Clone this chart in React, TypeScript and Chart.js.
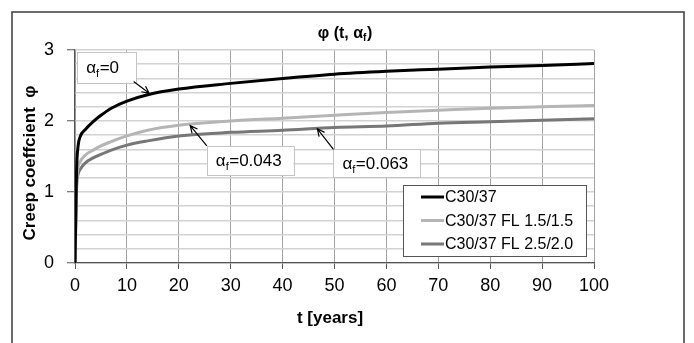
import React, { useEffect, useRef } from 'react';
import { Chart, registerables } from 'chart.js';

Chart.register(...registerables);

// ---- data ----
const years = [0, 0.3, 0.6, 1, 2, 3.5, 5, 7, 10, 14, 20, 30, 40, 50, 60, 70, 80, 90, 100];
const c3037 = [0, 1.3, 1.65, 1.78, 1.88, 1.99, 2.08, 2.18, 2.28, 2.37, 2.45, 2.53, 2.6, 2.66, 2.7, 2.73, 2.76, 2.78, 2.81];
const fl15 = [0, 1.1, 1.35, 1.43, 1.52, 1.59, 1.65, 1.71, 1.79, 1.87, 1.94, 2.0, 2.04, 2.08, 2.12, 2.15, 2.18, 2.2, 2.22];
const fl25 = [0, 1.05, 1.25, 1.32, 1.41, 1.48, 1.53, 1.59, 1.66, 1.72, 1.79, 1.84, 1.87, 1.91, 1.93, 1.97, 1.99, 2.01, 2.03];
const seriesNames = ['C30/37', 'C30/37 FL 1.5/1.5', 'C30/37 FL 2.5/2.0'];
const seriesColors = ['#000000', '#b5b5b5', '#777777'];

const xTitle = 't [years]';
const yTitle = 'Creep coeffcient  \u03c6';

// annotation labels: text after "α_f", box in data units [x0, yTop, x1, yBottom], arrow start, arrow tip
const noteTexts = ['=0', '=0.043', '=0.063'];
const noteBoxes = [
  [0.44, 2.975, 11.75, 2.54],
  [25.4, 1.648, 42.1, 1.24],
  [49.8, 1.6, 66.6, 1.205],
];
const noteFrom = [
  [11.3, 2.555],
  [25.4, 1.648],
  [49.8, 1.6],
];
const noteTo = [
  [14.3, 2.39],
  [22.2, 1.935],
  [46.7, 1.89],
];

const FONT = '"Liberation Sans", Arial, sans-serif';

function drawAlphaF(ctx: CanvasRenderingContext2D, x: number, y: number, size: number, bold: boolean, pre: string, post: string, measureOnly = false) {
  const w = bold ? 'bold ' : '';
  ctx.font = `${w}${size}px ${FONT}`;
  let cx = x;
  const wPre = ctx.measureText(pre + '\u03b1').width;
  if (!measureOnly) ctx.fillText(pre + '\u03b1', cx, y);
  cx += wPre;
  ctx.font = `${w}${Math.round(size * 0.62)}px ${FONT}`;
  const wSub = ctx.measureText('f').width;
  if (!measureOnly) ctx.fillText('f', cx, y + size * 0.2);
  cx += wSub + 0.5;
  ctx.font = `${w}${size}px ${FONT}`;
  const wPost = ctx.measureText(post).width;
  if (!measureOnly) ctx.fillText(post, cx, y);
  cx += wPost;
  return cx - x;
}

const decor = {
  id: 'decor',
  beforeDraw(chart: any) {
    const { ctx } = chart;
    ctx.save();
    ctx.fillStyle = '#ffffff';
    ctx.fillRect(0, 0, chart.width, chart.height);
    ctx.restore();
  },
  afterDraw(chart: any) {
    const { ctx, scales, chartArea } = chart;
    const xs = scales.x;
    const ys = scales.y;
    ctx.save();

    // outer frame
    ctx.strokeStyle = '#3c3c3c';
    ctx.lineWidth = 1.5;
    ctx.strokeRect(12, 12, 672, 400);

    ctx.fillStyle = '#000';
    ctx.textBaseline = 'alphabetic';
    ctx.textAlign = 'left';

    // title
    const tw = drawAlphaF(ctx, 0, 0, 16, true, '\u03c6 (t, ', ')', true);
    drawAlphaF(ctx, 345 - tw / 2, 38, 16, true, '\u03c6 (t, ', ')');

    // axis titles
    ctx.font = `bold 17px ${FONT}`;
    ctx.textAlign = 'center';
    ctx.textBaseline = 'middle';
    ctx.fillText(xTitle, 330, 318);
    ctx.save();
    ctx.translate(30, 163);
    ctx.rotate(-Math.PI / 2);
    ctx.fillText(yTitle, 0, 0);
    ctx.restore();

    // annotations
    for (let i = 0; i < noteTexts.length; i++) {
      const b = noteBoxes[i];
      const x0 = xs.getPixelForValue(b[0]);
      const y0 = ys.getPixelForValue(b[1]);
      const x1 = xs.getPixelForValue(b[2]);
      const y1 = ys.getPixelForValue(b[3]);
      ctx.fillStyle = '#ffffff';
      ctx.fillRect(x0, y0, x1 - x0, y1 - y0);
      ctx.strokeStyle = '#c4c4c4';
      ctx.lineWidth = 1;
      ctx.strokeRect(Math.round(x0) + 0.5, Math.round(y0) + 0.5, Math.round(x1 - x0), Math.round(y1 - y0));
      ctx.fillStyle = '#000';
      ctx.textAlign = 'left';
      ctx.textBaseline = 'alphabetic';
      drawAlphaF(ctx, x0 + 9, (y0 + y1) / 2 + 6, 17, false, '', noteTexts[i]);

      // arrow
      const ax = xs.getPixelForValue(noteFrom[i][0]);
      const ay = ys.getPixelForValue(noteFrom[i][1]);
      const bx = xs.getPixelForValue(noteTo[i][0]);
      const by = ys.getPixelForValue(noteTo[i][1]);
      ctx.strokeStyle = '#000';
      ctx.lineWidth = 1.2;
      ctx.beginPath();
      ctx.moveTo(ax, ay);
      ctx.lineTo(bx, by);
      const ang = Math.atan2(by - ay, bx - ax);
      const hl = 8;
      ctx.moveTo(bx - hl * Math.cos(ang - 0.45), by - hl * Math.sin(ang - 0.45));
      ctx.lineTo(bx, by);
      ctx.lineTo(bx - hl * Math.cos(ang + 0.45), by - hl * Math.sin(ang + 0.45));
      ctx.stroke();
    }

    // legend
    const lx = 403, ly = 185, lw = 183, lh = 71;
    ctx.fillStyle = '#ffffff';
    ctx.fillRect(lx, ly, lw, lh);
    ctx.strokeStyle = '#555555';
    ctx.lineWidth = 1;
    ctx.strokeRect(lx + 0.5, ly + 0.5, lw, lh);
    ctx.font = `16px ${FONT}`;
    ctx.textAlign = 'left';
    ctx.textBaseline = 'middle';
    chart.data.datasets.forEach((ds: any, i: number) => {
      const ry = ly + 12 + i * 23.5;
      ctx.strokeStyle = ds.borderColor;
      ctx.lineWidth = 3;
      ctx.beginPath();
      ctx.moveTo(lx + 18, ry);
      ctx.lineTo(lx + 41, ry);
      ctx.stroke();
      ctx.fillStyle = '#000';
      ctx.fillText(ds.label, lx + 42, ry + 1);
    });

    ctx.restore();
  },
};

export default function App() {
  const ref = useRef<HTMLCanvasElement | null>(null);

  useEffect(() => {
    document.body.style.margin = '0';
    const canvas = ref.current;
    if (!canvas) return;
    const seriesValues = [c3037, fl15, fl25];
    const chart = new Chart(canvas, {
      type: 'line',
      data: {
        datasets: seriesValues.map((vals, i) => ({
          label: seriesNames[i],
          data: years.map((t, j) => ({ x: t, y: vals[j] })),
          borderColor: seriesColors[i],
          backgroundColor: seriesColors[i],
          borderWidth: 3,
          pointRadius: 0,
          fill: false,
          cubicInterpolationMode: 'monotone',
        })),
      },
      options: {
        responsive: false,
        animation: false,
        devicePixelRatio: 1,
        layout: { padding: { left: 0, top: 50, right: 100, bottom: 0 } },
        plugins: {
          legend: { display: false },
          title: { display: false },
          tooltip: { enabled: false },
        },
        scales: {
          x: {
            type: 'linear',
            min: 0,
            max: 100,
            afterFit: (s: any) => { s.height = 80; },
            ticks: {
              stepSize: 10,
              color: '#000',
              font: { family: FONT, size: 18 },
              padding: 6,
              maxRotation: 0,
            },
            grid: {
              color: '#a3a3a3',
              lineWidth: 1,
              tickLength: 6,
              tickColor: '#555555',
            },
            border: { color: '#555555', width: 1.2 },
          },
          y: {
            type: 'linear',
            min: 0,
            max: 3,
            afterFit: (s: any) => { s.width = 75; },
            ticks: {
              stepSize: 0.2,
              autoSkip: false,
              color: '#000',
              font: { family: FONT, size: 18 },
              padding: 13,
              callback: (v: any) => (Math.abs(v - Math.round(v)) < 1e-6 ? String(Math.round(v)) : ''),
            },
            grid: {
              color: '#d2d2d2',
              lineWidth: 1.5,
              tickLength: 8,
              tickColor: (c: any) => (Math.abs(c.tick.value - Math.round(c.tick.value)) < 1e-6 ? '#555555' : 'rgba(0,0,0,0)'),
              tickWidth: 1,
            },
            border: { color: '#555555', width: 1.2 },
          },
        },
      },
      plugins: [decor],
    } as any);
    return () => chart.destroy();
  }, []);

  return <canvas ref={ref} width={694} height={343} style={{ display: 'block' }} />;
}
